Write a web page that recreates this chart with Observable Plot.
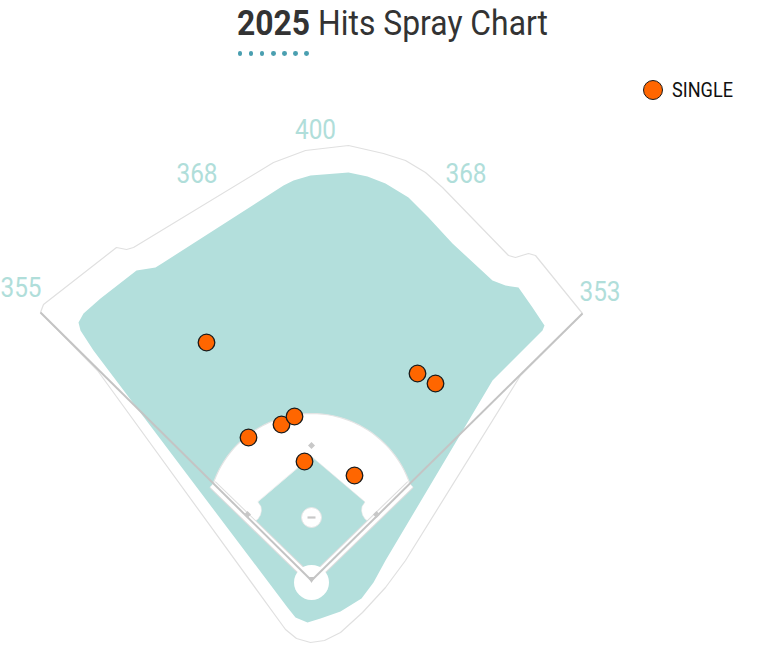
<!DOCTYPE html>
<html><head><meta charset="utf-8">
<script src="https://cdn.jsdelivr.net/npm/d3@7"></script>
<script src="https://cdn.jsdelivr.net/npm/@observablehq/plot@0.6"></script>
<style>
html,body{margin:0;padding:0;background:#fff;overflow:hidden;}
body{position:relative;width:770px;height:662px;}
#header{position:relative;height:65px;}
#title{position:absolute;left:237px;top:5.5px;font-family:Roboto,sans-serif;font-size:35px;line-height:1;color:#333;white-space:nowrap;transform-origin:0 0;}
#title b{font-weight:700;}
#dots{position:absolute;left:237.5px;top:51px;display:flex;gap:6.3px;}
#dots span{display:block;width:4.8px;height:4.8px;border-radius:50%;background:#4a9fb0;}
#legend{position:absolute;left:643px;top:80px;height:20px;display:flex;align-items:center;z-index:2;font-family:Roboto,sans-serif;font-size:19.5px;color:#111;}
#legend .sw{width:20px;height:20px;border-radius:50%;background:#ff6600;border:1.5px solid #1a1a1a;box-sizing:border-box;margin-right:9px;flex:none;}
#legend span{display:inline-block;transform-origin:0 50%;white-space:nowrap;}
#chart svg{display:block;}
</style></head>
<body>
<div id="header">
  <div id="title"><b>2025</b> Hits Spray Chart</div>
  <div id="dots"><span></span><span></span><span></span><span></span><span></span><span></span><span></span></div>
</div>
<div id="legend"><div class="sw"></div><span id="legtext">SINGLE</span></div>
<div id="chart"></div>
<script>
// Field coordinates: origin at home plate, y toward center field
const fieldOutline = [[-271,268],[-268,276],[-195,333],[-185,331],[-178,333],[-38,418],[-6,430],[37,435],[72,427],[94,420],[114,408],[131,393],[197,325],[204,323],[217,327],[224,325],[271,267],[209,205],[94,20],[74,-7],[51,-32],[29,-52],[13,-60],[-1,-62],[-15,-58],[-26,-49],[-34,-38],[-214,210]];
const grassArea = [[-233,258],[-228,267],[-211,282],[-175,310],[-156,313],[-148,318],[-28,395],[-18,400],[-1,405],[37,408],[56,404],[74,397],[97,383],[117,363],[141,337],[181,300],[194,295],[207,293],[221,273],[233,255],[231,250],[181,200],[74,20],[62,-2],[50,-18],[29,-31],[9,-38],[-4,-42],[-16,-37],[-24,-27],[-218,230],[-231,250]];
const infieldGrass = [[0,124],[53.5,78.5],[50.5,74],[50,70],[51,65.5],[53.5,61.5],[56,59.6],[0,4],[-56,59.6],[-53.5,61.5],[-51,65.5],[-50,70],[-50.5,74],[-53.5,78.5]];
const moundXY = [0,63];
const arcRadius = 104;
const arcAngles = [162,18];
const foulPoles = [[-271,268],[271,267]];
const stripEnds = [[-99,96],[99,96]];
const basesXY = [[65,66],[0,135],[-64,66]];
const homeCircle = [0,-2];
const distText = ["355","368","400","368","353"];
const distX = [-290.5,-114.5,4,154.5,288.5];
const distY = [292,406,450,406,288.5];
const hitX = [-105,-63,-30,-17,-7,43,106,124];
const hitY = [238,143,156,164,119,105,207,197];
const hitResult = ["SINGLE","SINGLE","SINGLE","SINGLE","SINGLE","SINGLE","SINGLE","SINGLE"];

const arcPts = d3.range(arcAngles[0], arcAngles[1]-0.001, -3).map(a => [moundXY[0] + arcRadius*Math.cos(a*Math.PI/180), moundXY[1] + arcRadius*Math.sin(a*Math.PI/180)]);
const dirt = [[0,-3], ...arcPts, [0,-3]];
const foulLines = foulPoles.map(p => ({x1:0,y1:0,x2:p[0],y2:p[1]}));
const strips = stripEnds.map(p => ({x1:0,y1:0,x2:p[0],y2:p[1]}));
const hits = hitX.map((x,i) => ({x, y: hitY[i], result: hitResult[i]}));
const dists = distText.map((t,i) => ({t, x: distX[i], y: distY[i]}));
const X = d => d[0], Y = d => d[1];
const FONT = "Roboto, sans-serif";

const chart = Plot.plot({
  width: 770, height: 597, margin: 0,
  x: {domain: [-311, 459], axis: null},
  y: {domain: [-82, 515], axis: null},
  style: {background: "#fff", fontFamily: FONT},
  marks: [
    Plot.line(fieldOutline, {x: X, y: Y, curve: "linear-closed", stroke: "#e0e0e0", strokeWidth: 1.2, fill: "#fff"}),
    Plot.line(grassArea, {x: X, y: Y, curve: "linear-closed", fill: "#b3dfdc", stroke: "none"}),
    Plot.line(dirt, {x: X, y: Y, curve: "linear-closed", fill: "#fff", stroke: "none"}),
    Plot.line(arcPts, {x: X, y: Y, stroke: "#e4e4e4", strokeWidth: 1.2}),
    Plot.line(infieldGrass, {x: X, y: Y, curve: "linear-closed", fill: "#b3dfdc", stroke: "#e6e6e6", strokeWidth: 0.6}),
    Plot.link(strips, {x1: "x1", y1: "y1", x2: "x2", y2: "y2", stroke: "#dcdcdc", strokeWidth: 9}),
    Plot.link(strips, {x1: "x1", y1: "y1", x2: "x2", y2: "y2", stroke: "#fff", strokeWidth: 7}),
    Plot.dot([homeCircle], {x: X, y: Y, r: 17.5, fill: "#fff", stroke: "none"}),
    Plot.dot([moundXY], {x: X, y: Y, r: 10, fill: "#fff", stroke: "#e6e6e6", strokeWidth: 1}),
    Plot.link(foulLines, {x1: "x1", y1: "y1", x2: "x2", y2: "y2", stroke: "#c4c4c4", strokeWidth: 2}),
    Plot.link([{x1: moundXY[0]-4, x2: moundXY[0]+4, y: moundXY[1]}], {x1: "x1", x2: "x2", y1: "y", y2: "y", stroke: "#c8c8c8", strokeWidth: 2.2}),
    Plot.dot(basesXY, {x: X, y: Y, symbol: "square", rotate: 45, r: 2.8, fill: "#c8c8c8", stroke: "none"}),
    Plot.dot([[0,1.5]], {x: X, y: Y, symbol: "triangle", rotate: 180, r: 2.6, fill: "#c4c4c4", stroke: "none"}),
    Plot.text(dists, {x: "x", y: "y", text: "t", fill: "#b0deda", fontSize: 28, fontFamily: FONT, lineAnchor: "middle"}),
    Plot.dot(hits, {x: "x", y: "y", r: 8.3, fill: "#ff6600", stroke: "#1a1a1a", strokeWidth: 1.3})
  ]
});
document.getElementById("chart").appendChild(chart);

// condense the label glyphs (Roboto Condensed look)
chart.querySelectorAll("text").forEach(t => {
  const x = t.getAttribute("x"), y = t.getAttribute("y");
  if (x != null && y != null) {
    t.removeAttribute("x"); t.removeAttribute("y");
    t.setAttribute("transform", `translate(${x},${y}) scale(0.87,1)`);
  } else {
    t.setAttribute("transform", (t.getAttribute("transform") || "") + " scale(0.87,1)");
  }
});
const title = document.getElementById("title");
title.style.transform = `scaleX(${311 / title.getBoundingClientRect().width})`;
const leg = document.getElementById("legtext");
leg.style.transform = `scaleX(${61 / leg.getBoundingClientRect().width})`;
</script>
</body></html>
